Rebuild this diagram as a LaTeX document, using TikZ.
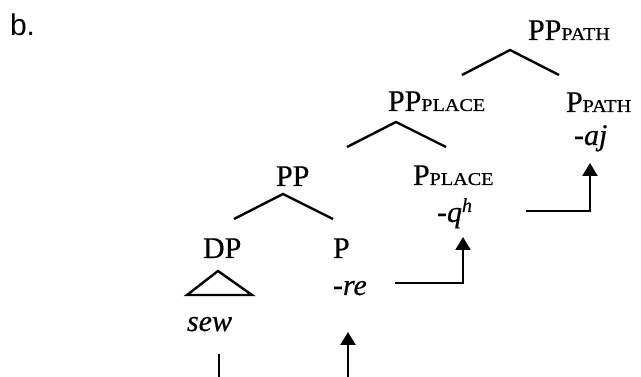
\documentclass[tikz,border=0pt]{standalone}
\usepackage{fontspec}
\usepackage{graphicx}
\setmainfont{Liberation Serif}[UprightFeatures={FakeBold=0.6},ItalicFeatures={FakeBold=0.6}]
\newfontfamily\bfont{Liberation Sans}
\usetikzlibrary{arrows.meta}
\newcommand\smc[1]{\scalebox{1.12}[1]{\fontsize{18}{18}\selectfont #1}}
\begin{document}
\begin{tikzpicture}[x=1pt,y=-1pt,
  every node/.style={inner sep=0pt,outer sep=0pt,anchor=base west,font=\fontsize{30}{30}\selectfont},
  br/.style={line width=2.4pt,line join=miter},
  arr/.style={line width=2.4pt,-{Triangle[width=15pt,length=13pt]}}]
\useasboundingbox (0,0) rectangle (641,377);
% labels
\node (b) at (10,36) {\bfont b.};
\node (pppath) at (528,40) {PP\smc{PATH}};
\node (ppath) at (566,112) {P\smc{PATH}};
\node (aj) at (574,145) {\textit{-aj}};
\node (ppplace) at (388,111) {PP\smc{PLACE}};
\node (pplace) at (413,185) {P\smc{PLACE}};
\node (qh) at (437,222) {\textit{-q}\raisebox{10pt}{\fontsize{20}{20}\selectfont\textit{h}}};
\node (pp) at (276,186) {PP};
\node (dp) at (203,258) {DP};
\node (p) at (333,258) {P};
\node (re) at (333,295) {\textit{-re}};
\node (sew) at (187,331) {\textit{sew}};
% branch points
\coordinate (t1) at (510,50);  \coordinate (t1l) at (462,75);  \coordinate (t1r) at (559,75);
\coordinate (t2) at (396,122); \coordinate (t2l) at (347,147); \coordinate (t2r) at (446,147);
\coordinate (t3) at (283,194); \coordinate (t3l) at (234,219); \coordinate (t3r) at (333,219);
\coordinate (tri) at (218,271); \coordinate (tril) at (187,295); \coordinate (trir) at (252,295);
\coordinate (a1s) at (395,283); \coordinate (a1e) at (463,237);
\coordinate (a2s) at (526,211); \coordinate (a2e) at (590,163);
\coordinate (a3s) at (348,377); \coordinate (a3e) at (348,332);
\coordinate (l4s) at (219,377); \coordinate (l4e) at (219,354);
% tree
\draw[br] (t1l) -- (t1) -- (t1r);
\draw[br] (t2l) -- (t2) -- (t2r);
\draw[br] (t3l) -- (t3) -- (t3r);
\draw[br] (tril) -- (tri) -- (trir) -- cycle;
% movement
\draw[arr] (a1s) -| (a1e);
\draw[arr] (a2s) -| (a2e);
\draw[arr] (a3s) -- (a3e);
\draw[br] (l4s) -- (l4e);
\end{tikzpicture}
\end{document}
